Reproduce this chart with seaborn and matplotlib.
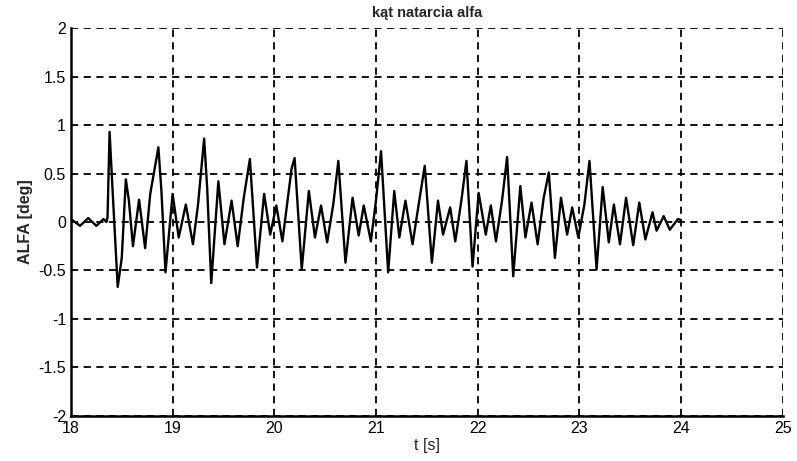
import pandas as pd
import matplotlib.pyplot as plt
import seaborn as sns

# values (peaks / troughs of the trace)
t_s = [18.00, 18.09, 18.17, 18.25, 18.32, 18.35, 18.36, 18.38, 18.41, 18.46,
       18.50, 18.54, 18.57, 18.61, 18.67, 18.73, 18.78, 18.86, 18.89, 18.93,
       19.00, 19.06, 19.13, 19.20, 19.25, 19.31, 19.34, 19.38, 19.45, 19.51,
       19.58, 19.64, 19.70, 19.76, 19.83, 19.90, 19.96, 20.02, 20.08, 20.17,
       20.20, 20.27, 20.34, 20.40, 20.46, 20.52, 20.58, 20.63, 20.70, 20.77,
       20.83, 20.88, 20.95, 21.00, 21.05, 21.12, 21.18, 21.23, 21.29, 21.36,
       21.42, 21.48, 21.55, 21.61, 21.66, 21.73, 21.78, 21.84, 21.89, 21.95,
       22.01, 22.08, 22.13, 22.18, 22.24, 22.29, 22.35, 22.42, 22.47, 22.53,
       22.59, 22.65, 22.70, 22.76, 22.82, 22.88, 22.93, 22.99, 23.05, 23.10,
       23.17, 23.23, 23.29, 23.34, 23.40, 23.46, 23.53, 23.59, 23.65, 23.72,
       23.76, 23.83, 23.89, 23.97, 24.00]
alfa_deg = [0.03, -0.04, 0.04, -0.04, 0.03, 0.00, 0.05, 0.93, 0.32, -0.67,
            -0.37, 0.44, 0.22, -0.25, 0.23, -0.27, 0.29, 0.77, 0.32, -0.52,
            0.29, -0.16, 0.18, -0.23, 0.18, 0.86, 0.35, -0.63, 0.42, -0.23,
            0.22, -0.25, 0.25, 0.65, -0.47, 0.29, -0.13, 0.17, -0.20, 0.55,
            0.66, -0.49, 0.32, -0.16, 0.17, -0.21, 0.18, 0.63, -0.42, 0.25,
            -0.14, 0.17, -0.20, 0.22, 0.73, -0.52, 0.32, -0.16, 0.22, -0.23,
            0.18, 0.58, -0.42, 0.22, -0.13, 0.15, -0.20, 0.22, 0.63, -0.46,
            0.30, -0.13, 0.17, -0.20, 0.22, 0.67, -0.56, 0.37, -0.16, 0.20,
            -0.23, 0.25, 0.51, -0.37, 0.25, -0.13, 0.15, -0.16, 0.18, 0.63,
            -0.49, 0.36, -0.21, 0.18, -0.23, 0.25, -0.24, 0.20, -0.18, 0.10,
            -0.09, 0.06, -0.08, 0.03, 0.02]

x_ticks = [18, 19, 20, 21, 22, 23, 24, 25]
y_ticks = [-2, -1.5, -1, -0.5, 0, 0.5, 1, 1.5, 2]
y_labels = ['-2', '-1.5', '-1', '-0.5', '0', '0.5', '1', '1.5', '2']

df = pd.DataFrame({'t': t_s, 'alfa': alfa_deg})

sns.set_style("white")
plt.rcParams['font.family'] = ['Liberation Sans', 'DejaVu Sans']

fig = plt.figure(figsize=(7.97, 4.61), dpi=100)
ax = fig.add_axes([0.089, 0.098, 0.893, 0.841])

sns.lineplot(data=df, x='t', y='alfa', ax=ax, color='black', linewidth=1.7)

ax.set_xlim(18, 25)
ax.set_ylim(-2, 2)
ax.set_xticks(x_ticks)
ax.set_yticks(y_ticks)
ax.set_yticklabels(y_labels)
ax.grid(True, color='black', linestyle=(0, (4, 3)), linewidth=1.3)
ax.set_axisbelow(True)

for side in ['top', 'right']:
    ax.spines[side].set_visible(False)
for side in ['left', 'bottom']:
    ax.spines[side].set_color('black')
    ax.spines[side].set_linewidth(1.8)

ax.tick_params(axis='both', direction='in', length=4, width=1.2,
               labelsize=11.5, colors='black')
ax.set_title('kąt natarcia alfa', fontsize=10.5, fontweight='bold', pad=8)
ax.set_xlabel('t [s]', fontsize=11.5, labelpad=2)
ax.set_ylabel('ALFA [deg]', fontsize=11.5, fontweight='bold', labelpad=4)

fig.savefig('out.png', dpi=100, facecolor='white')
